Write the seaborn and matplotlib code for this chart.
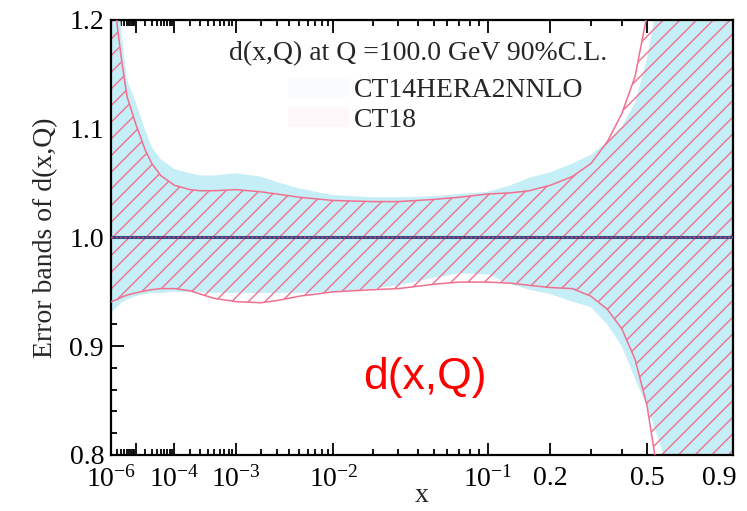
import numpy as np
import pandas as pd
import matplotlib
matplotlib.use('Agg')
import matplotlib.pyplot as plt
import seaborn as sns
from matplotlib.patches import Patch

# x grid and error band edges (ratio to central fit)
x_vals = [1e-6, 2e-6, 3e-6, 5e-6, 1e-5, 2e-5, 3e-5, 5e-5, 1e-4, 2e-4, 3e-4, 5e-4,
          1e-3, 2e-3, 3e-3, 5e-3, 1e-2, 2e-2, 3e-2, 5e-2, 0.07, 0.1, 0.13, 0.16,
          0.2, 0.25, 0.3, 0.35, 0.4, 0.45, 0.5, 0.55, 0.6, 0.7, 0.8, 0.9, 1.0]

ct14_up = [1.40, 1.24, 1.19, 1.145, 1.125, 1.098, 1.083, 1.072, 1.063, 1.059, 1.057, 1.057,
           1.059, 1.056, 1.051, 1.045, 1.039, 1.037, 1.037, 1.038, 1.040, 1.042, 1.048, 1.055,
           1.060, 1.068, 1.076, 1.088, 1.102, 1.124, 1.165, 1.22, 1.30, 1.45, 1.6, 1.8, 2.0]
ct14_lo = [0.931, 0.936, 0.940, 0.943, 0.946, 0.948, 0.949, 0.949, 0.950, 0.950, 0.950, 0.949,
           0.949, 0.949, 0.949, 0.949, 0.950, 0.953, 0.956, 0.963, 0.967, 0.966, 0.957, 0.952,
           0.948, 0.941, 0.936, 0.920, 0.900, 0.870, 0.845, 0.815, 0.785, 0.68, 0.58, 0.48, 0.38]

ct18_up = [1.27, 1.195, 1.165, 1.13, 1.105, 1.08, 1.068, 1.057, 1.048, 1.044, 1.043, 1.043,
           1.044, 1.042, 1.040, 1.037, 1.034, 1.033, 1.033, 1.035, 1.037, 1.040, 1.041, 1.043,
           1.048, 1.056, 1.068, 1.088, 1.114, 1.148, 1.205, 1.28, 1.40, 1.6, 1.8, 2.0, 2.3]
ct18_lo = [0.941, 0.943, 0.945, 0.947, 0.949, 0.951, 0.952, 0.953, 0.953, 0.951, 0.948, 0.944,
           0.941, 0.940, 0.942, 0.946, 0.950, 0.952, 0.953, 0.957, 0.959, 0.959, 0.958, 0.956,
           0.954, 0.953, 0.946, 0.934, 0.916, 0.888, 0.845, 0.78, 0.70, 0.57, 0.46, 0.36, 0.22]

major_x = [1e-6, 1e-5, 1e-4, 1e-3, 1e-2, 0.1, 0.2, 0.5, 0.9]
major_lab = ['10$^{-6}$', '', '10$^{-4}$', '10$^{-3}$', '10$^{-2}$', '10$^{-1}$', '0.2', '0.5', '0.9']
y_ticks = [0.8, 0.9, 1.0, 1.1, 1.2]

cyan = '#c6eef6'
pink = '#f0708f'

df = pd.DataFrame({'x': x_vals, 'ct14_up': ct14_up, 'ct14_lo': ct14_lo,
                   'ct18_up': ct18_up, 'ct18_lo': ct18_lo, 'central': 1.0})

sns.set_style('ticks')
plt.rcParams['font.family'] = ['Liberation Serif', 'DejaVu Serif']
plt.rcParams['mathtext.fontset'] = 'custom'
plt.rcParams['mathtext.rm'] = 'Liberation Serif'
plt.rcParams['mathtext.it'] = 'Liberation Serif:italic'
plt.rcParams['hatch.linewidth'] = 1.0

fig = plt.figure(figsize=(7.47, 5.11), dpi=100)
ax = fig.add_axes([0.1486, 0.1096, 0.8327, 0.8513])

ax.set_xscale('function', functions=(lambda v: np.power(np.clip(v, 1e-12, None), 0.2),
                                     lambda v: np.power(np.clip(v, 0, None), 5)))

# CT14HERA2NNLO band (solid light cyan)
ax.fill_between(df['x'], df['ct14_lo'], df['ct14_up'], color=cyan, linewidth=0, zorder=1)
# CT18 band (pink hatch)
ax.fill_between(df['x'], df['ct18_lo'], df['ct18_up'], facecolor='none', edgecolor=pink,
                hatch='//', linewidth=0, zorder=2)
sns.lineplot(data=df, x='x', y='ct18_up', color=pink, linewidth=1.1, ax=ax, zorder=3)
sns.lineplot(data=df, x='x', y='ct18_lo', color=pink, linewidth=1.1, ax=ax, zorder=3)

# central value
sns.lineplot(data=df, x='x', y='central', color='#3a4682', linewidth=2.2, ax=ax, zorder=4)
sns.lineplot(data=df, x='x', y='central', color='#d8506c', linewidth=0.9,
             linestyle=(0, (1.5, 2)), ax=ax, zorder=5)

ax.set_xlim(1e-6, 1.0)
ax.set_ylim(0.8, 1.2)

ax.set_xticks(major_x)
ax.set_xticklabels(major_lab)
minor_x = [m * 10.0 ** k for k in range(-6, -1) for m in range(2, 10)] + [0.3, 0.4, 0.6, 0.7, 0.8]
ax.set_xticks(minor_x, minor=True)
ax.set_yticks(y_ticks)
ax.set_yticklabels([f'{t:.1f}' for t in y_ticks])
ax.set_yticks(np.arange(0.8, 1.2001, 0.02), minor=True)

ax.tick_params(which='both', direction='in', top=True, right=True, labelsize=20,
               colors='black', width=1.3)
ax.tick_params(which='major', length=9, pad=5)
ax.tick_params(axis='x', which='major', pad=8)
ax.tick_params(which='minor', length=4.5)
for sp in ax.spines.values():
    sp.set_linewidth(1.6)
    sp.set_color('black')

ax.set_xlabel('x', fontsize=20, labelpad=-7)
ax.set_ylabel('Error bands of d(x,Q)', fontsize=20, labelpad=8)

ax.text(0.19, 0.922, 'd(x,Q) at Q =100.0 GeV 90%C.L.', transform=ax.transAxes,
        fontsize=20, ha='left', va='center')

handles = [Patch(facecolor=cyan, alpha=0.12, edgecolor='none'),
           Patch(facecolor=pink, alpha=0.05, edgecolor='none')]
ax.legend(handles, ['CT14HERA2NNLO', 'CT18'], loc='upper left', bbox_to_anchor=(0.284, 0.867),
          frameon=False, fontsize=20, handlelength=2.2, handletextpad=0.2,
          labelspacing=0.15, borderpad=0, borderaxespad=0)

ax.text(0.505, 0.177, 'd(x,Q)', transform=ax.transAxes, fontsize=32, color='red',
        family='Liberation Sans', ha='center', va='center')

fig.savefig('out.png', dpi=100)
